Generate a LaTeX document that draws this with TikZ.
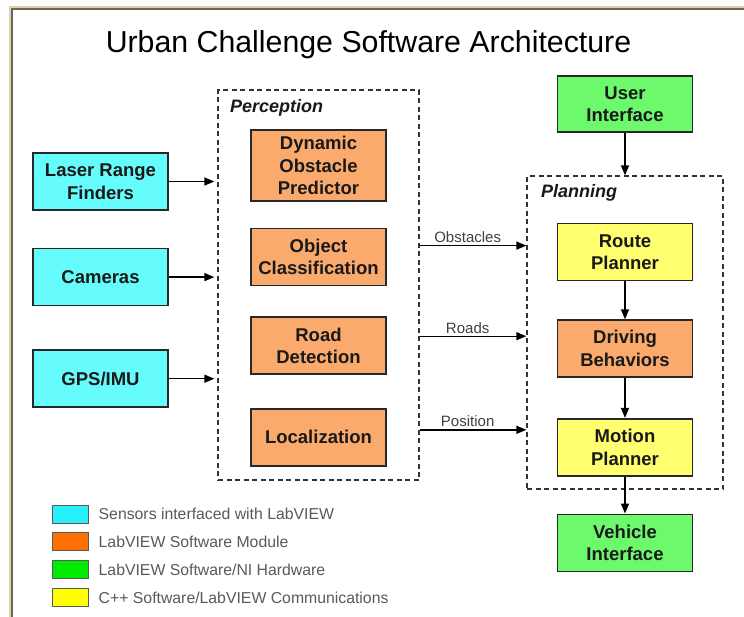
\documentclass[tikz,border=0pt]{standalone}
\usepackage{fontspec}
\setmainfont{Liberation Sans}
\usepackage{xcolor}
\usetikzlibrary{arrows.meta, positioning}

\definecolor{sensorfill}{RGB}{102,252,252}
\definecolor{modulefill}{RGB}{250,170,108}
\definecolor{hwfill}{RGB}{108,250,108}
\definecolor{cppfill}{RGB}{255,255,112}
\definecolor{sensorkey}{RGB}{40,240,250}
\definecolor{modulekey}{RGB}{255,112,0}
\definecolor{hwkey}{RGB}{0,235,0}
\definecolor{cppkey}{RGB}{255,255,0}
\definecolor{boxline}{RGB}{40,40,40}
\definecolor{frametan}{RGB}{228,210,160}

\begin{document}
\begin{tikzpicture}[
        x=1pt, y=-1pt,
        >={Triangle[length=10pt,width=8pt]},
        block/.style={draw=boxline, line width=1.6pt, rectangle, text=black!90,
            align=center, minimum width=135pt, minimum height=57pt, inner sep=2pt,
            font=\bfseries\fontsize{18.5}{22.5}\selectfont},
        sensor/.style={block, fill=sensorfill},
        module/.style={block, fill=modulefill},
        hwblock/.style={block, fill=hwfill},
        cppblock/.style={block, fill=cppfill},
        container/.style={draw=black!80, dash pattern=on 5pt off 3.5pt,
            line width=1.3pt, inner sep=0pt},
        title/.style={font=\bfseries\itshape\fontsize{18}{20}\selectfont,
            anchor=base west, inner sep=0pt, text=black!90},
        line/.style={draw, line width=1.4pt, ->},
        edgelabel/.style={font=\fontsize{15}{17}\selectfont, text=black!75,
            above, inner sep=2pt},
        keybox/.style={draw=black!65, line width=1pt, minimum width=36pt,
            minimum height=18pt, inner sep=0pt},
        keytext/.style={font=\fontsize{15.8}{18}\selectfont, text=black!65,
            anchor=west, inner sep=0pt},
    ]
    \useasboundingbox (0,0) rectangle (744,616);

    % 0. Frame and heading
    \draw[frametan, line width=2pt] (9.5,640) |- (760,6.5);
    \draw[black!60, line width=2.2pt] (12,640) |- (760,9);
    \node[font=\fontsize{30.3}{34}\selectfont, anchor=base, inner sep=0pt] (heading)
        at (368.5,52) {Urban Challenge Software Architecture};

    % 1. Sensors
    \node[sensor] (laser) at (100.5,181.5) {Laser Range\\Finders};
    \node[sensor, below=37pt of laser] (cameras) {Cameras};
    \node[sensor, below=43pt of cameras] (gps) {GPS/IMU};

    % 2. Perception
    \node[container, minimum width=201pt, minimum height=390pt] (perc_box)
        at (318.5,285) {};
    \node[title] at (230,112) {Perception};
    \node[module, minimum height=71pt] (dynamic) at (318.5,165.5)
        {Dynamic\\Obstacle\\Predictor};
    \node[module, below=26pt of dynamic] (object) {Object\\Classification};
    \node[module, below=30pt of object] (road) {Road\\Detection};
    \node[module, below=33pt of road] (local) {Localization};

    % 3. Planning
    \node[hwblock, minimum height=56pt] (user) at (625,104) {User\\Interface};
    \node[container, minimum width=196pt, minimum height=313pt] (plan_box)
        at (625,332.5) {};
    \node[title] at (541,197) {Planning};
    \node[cppblock] (route) at (625,252) {Route\\Planner};
    \node[module, below=38pt of route] (driving) {Driving\\Behaviors};
    \node[cppblock, below=40pt of driving] (motion) {Motion\\Planner};
    \node[hwblock, below=37pt of motion] (vehicle) {Vehicle\\Interface};

    % 4. Legend
    \node[keybox, fill=sensorkey] (key_sensor) at (70,514) {};
    \node[keybox, fill=modulekey, below=8.5pt of key_sensor] (key_module) {};
    \node[keybox, fill=hwkey, below=9pt of key_module] (key_hw) {};
    \node[keybox, fill=cppkey, below=9pt of key_hw] (key_cpp) {};
    \node[keytext, right=10pt of key_sensor] {Sensors interfaced with LabVIEW};
    \node[keytext, right=10pt of key_module] {LabVIEW Software Module};
    \node[keytext, right=10pt of key_hw] {LabVIEW Software/NI Hardware};
    \node[keytext, right=10pt of key_cpp] {C++ Software/LabVIEW Communications};

    % --- Arrows ---
    \path[line, shorten >=3pt] (laser.east) -- (laser.east -| perc_box.west);
    \path[line, shorten >=3pt] (cameras.east) -- (cameras.east -| perc_box.west);
    \path[line, shorten >=3pt] (gps.east) -- (gps.east -| perc_box.west);

    \coordinate (obs_y) at ([yshift=11.5pt]object.east);
    \coordinate (road_y) at ([yshift=9.5pt]road.east);
    \coordinate (pos_y) at ([yshift=7.5pt]local.east);
    \path[line] (obs_y -| perc_box.east) -- (obs_y -| plan_box.west)
        node[edgelabel, pos=0.45] {Obstacles};
    \path[line] (road_y -| perc_box.east) -- (road_y -| plan_box.west)
        node[edgelabel, pos=0.45] {Roads};
    \path[line] (pos_y -| perc_box.east) -- (pos_y -| plan_box.west)
        node[edgelabel, pos=0.45] {Position};

    \path[line] (user.south) -- (user.south |- plan_box.north);
    \path[line] (route) -- (driving);
    \path[line] (driving) -- (motion);
    \path[line] (motion) -- (vehicle);

\end{tikzpicture}
\end{document}
